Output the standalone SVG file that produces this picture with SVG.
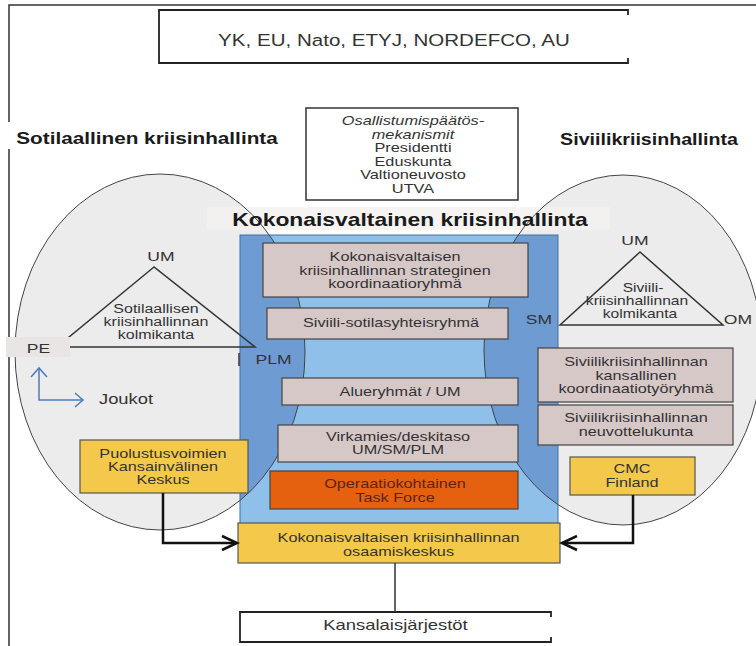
<svg xmlns="http://www.w3.org/2000/svg" width="756" height="646" viewBox="0 0 756 646">
<style>
.t{font-family:"Liberation Sans",Arial,sans-serif;font-size:12.5px;fill:#333;text-anchor:middle}
.o{font-size:12px}
.lab{font-size:13px}
.h{font-weight:bold;fill:#1a1a1a}
.box{fill:#d7c8c8;stroke:#444;stroke-width:1.2}
.yel{fill:#f4c84a;stroke:#555;stroke-width:1.2}
.tri{fill:none;stroke:#333;stroke-width:1.5}
.ell{fill:none;stroke:#444;stroke-width:1}
.conn{fill:none;stroke:#111;stroke-width:2.5}
.blue{fill:none;stroke:#4a7cc0;stroke-width:1.5}
</style>
<defs>
<clipPath id="blueClip"><rect x="240" y="235" width="318" height="290"/></clipPath>
</defs>
<rect width="756" height="646" fill="#ffffff"/>
<g id="frame"><path d="M9,646 V5 H756" fill="none" stroke="#333" stroke-width="1.5"/></g>

<g id="ellipses">
<ellipse cx="160" cy="352" rx="145" ry="178" fill="#ececec"/>
<ellipse cx="623" cy="350" rx="139" ry="175" fill="#ececec"/>
<rect x="207" y="207" width="403" height="23" fill="#f5f1f1" opacity="0.85"/>
<rect x="240" y="235" width="318" height="290" fill="#8fc0ea"/>
<g clip-path="url(#blueClip)">
<ellipse cx="160" cy="352" rx="145" ry="178" fill="#6d9bd2"/>
<ellipse cx="623" cy="350" rx="139" ry="175" fill="#6d9bd2"/>
</g>
<rect x="240" y="235" width="318" height="290" fill="none" stroke="#44709f" stroke-width="1"/>
<ellipse class="ell" cx="160" cy="352" rx="145" ry="178"/>
<ellipse class="ell" cx="623" cy="350" rx="139" ry="175"/>
<line x1="239" y1="353" x2="239" y2="366" stroke="#333" stroke-width="1.5"/>
</g>

<g id="top-box">
<path d="M628,15 V10 H159 V63 H628 V58" fill="#fff" stroke="#222" stroke-width="1.8"/>
<text class="t" style="font-size:17px" transform="translate(394,46) scale(1.21,1)">YK, EU, Nato, ETYJ, NORDEFCO, AU</text>
</g>

<g id="heading-military">
<rect x="6" y="122" width="282" height="27" fill="#fff"/>
<text class="t h" style="font-size:17px" transform="translate(147,144) scale(1.22,1)">Sotilaallinen kriisinhallinta</text>
</g>
<g id="heading-civil">
<text class="t h" style="font-size:16.5px" transform="translate(649,145) scale(1.19,1)">Siviilikriisinhallinta</text>
</g>

<g id="decision-box">
<rect x="306" y="108" width="212" height="92" fill="#fff" stroke="#333" stroke-width="1.5"/>
<text class="t o" font-style="italic" transform="translate(413,125) scale(1.36,1)">Osallistumispäätös-</text>
<text class="t o" font-style="italic" transform="translate(413,138.5) scale(1.36,1)">mekanismit</text>
<text class="t o" transform="translate(413,152) scale(1.36,1)">Presidentti</text>
<text class="t o" transform="translate(413,165.5) scale(1.36,1)">Eduskunta</text>
<text class="t o" transform="translate(413,179) scale(1.36,1)">Valtioneuvosto</text>
<text class="t o" transform="translate(413,192.5) scale(1.36,1)">UTVA</text>
</g>

<g id="heading-comprehensive">
<text class="t h" style="font-size:18px" transform="translate(410,226) scale(1.27,1)">Kokonaisvaltainen kriisinhallinta</text>
</g>

<g id="military-triangle">
<polygon class="tri" points="154,267 57,347 255,347"/>
<text class="t lab" transform="translate(161,261) scale(1.35,1)">UM</text>
<text class="t" transform="translate(156,313) scale(1.28,1)">Sotilaallisen</text>
<text class="t" transform="translate(156,326) scale(1.28,1)">kriisinhallinnan</text>
<text class="t" transform="translate(156,339) scale(1.28,1)">kolmikanta</text>
<rect x="6" y="337" width="64" height="20" fill="#e9e5e5"/>
<text class="t lab" transform="translate(38.5,353) scale(1.35,1)">PE</text>
<text class="t lab" transform="translate(273.5,364) scale(1.35,1)">PLM</text>
</g>

<g id="troops">
<path class="blue" d="M39,369 V400 H83"/>
<path class="blue" d="M31,377 L39,368 L47,377"/>
<path class="blue" d="M75,393 L83,400 L75,407"/>
<text class="t" style="font-size:14px;text-anchor:start" transform="translate(99,404) scale(1.31,1)">Joukot</text>
</g>

<g id="civil-triangle">
<polygon class="tri" points="640,252 560,325 723,325"/>
<text class="t lab" transform="translate(635,245) scale(1.35,1)">UM</text>
<text class="t lab" transform="translate(539,324) scale(1.35,1)">SM</text>
<text class="t lab" transform="translate(738,324) scale(1.35,1)">OM</text>
<text class="t" transform="translate(643,292) scale(1.25,1)">Siviili-</text>
<text class="t" transform="translate(637,305) scale(1.25,1)">kriisinhallinnan</text>
<text class="t" transform="translate(640,318) scale(1.25,1)">kolmikanta</text>
</g>

<g id="strategic-group">
<rect class="box" x="263" y="243" width="265" height="54"/>
<text class="t" transform="translate(395,261) scale(1.3,1)">Kokonaisvaltaisen</text>
<text class="t" transform="translate(395,274.5) scale(1.3,1)">kriisinhallinnan strateginen</text>
<text class="t" transform="translate(395,288) scale(1.3,1)">koordinaatioryhmä</text>
</g>
<g id="civil-military-group">
<rect class="box" x="267" y="308" width="241" height="31"/>
<text class="t" transform="translate(391,327) scale(1.3,1)">Siviili-sotilasyhteisryhmä</text>
</g>
<g id="regional-groups">
<rect class="box" x="282" y="378" width="236" height="27"/>
<text class="t" transform="translate(400,396) scale(1.3,1)">Alueryhmät / UM</text>
</g>
<g id="desk-level">
<rect class="box" x="278" y="425" width="240" height="37"/>
<text class="t" transform="translate(398,441) scale(1.3,1)">Virkamies/deskitaso</text>
<text class="t" transform="translate(398,454) scale(1.3,1)">UM/SM/PLM</text>
</g>
<g id="task-force">
<rect x="270" y="471" width="248" height="38" fill="#e5600f" stroke="#444" stroke-width="1.2"/>
<text class="t" style="fill:#5e2410" transform="translate(395,488) scale(1.3,1)">Operaatiokohtainen</text>
<text class="t" style="fill:#5e2410" transform="translate(395,502) scale(1.3,1)">Task Force</text>
</g>
<g id="competence-centre">
<rect class="yel" x="238" y="523" width="322" height="40"/>
<text class="t" transform="translate(398.5,542) scale(1.3,1)">Kokonaisvaltaisen kriisinhallinnan</text>
<text class="t" transform="translate(398.5,555.5) scale(1.3,1)">osaamiskeskus</text>
</g>

<g id="civil-coordination">
<rect class="box" x="538" y="348" width="195" height="54"/>
<text class="t" transform="translate(636,366) scale(1.3,1)">Siviilikriisinhallinnan</text>
<text class="t" transform="translate(636,379.5) scale(1.3,1)">kansallinen</text>
<text class="t" transform="translate(636,393) scale(1.3,1)">koordinaatiotyöryhmä</text>
</g>
<g id="civil-advisory">
<rect class="box" x="538" y="405" width="195" height="40"/>
<text class="t" transform="translate(636,422) scale(1.3,1)">Siviilikriisinhallinnan</text>
<text class="t" transform="translate(636,435.5) scale(1.3,1)">neuvottelukunta</text>
</g>

<g id="defence-centre">
<rect class="yel" x="80" y="440" width="168" height="53"/>
<text class="t" transform="translate(163,458) scale(1.3,1)">Puolustusvoimien</text>
<text class="t" transform="translate(163,471) scale(1.3,1)">Kansainvälinen</text>
<text class="t" transform="translate(163,484) scale(1.3,1)">Keskus</text>
</g>
<g id="cmc-finland">
<rect class="yel" x="570" y="457" width="125" height="38"/>
<text class="t" transform="translate(632,473) scale(1.3,1)">CMC</text>
<text class="t" transform="translate(632,487) scale(1.3,1)">Finland</text>
</g>

<g id="ngos">
<path d="M551,617 V612 H240 V642 H551 V637" fill="#fff" stroke="#222" stroke-width="1.8"/>
<text class="t" style="font-size:15px" transform="translate(395.5,630) scale(1.23,1)">Kansalaisjärjestöt</text>
</g>

<g id="connectors">
<path class="conn" d="M163,493 V543 H236"/>
<path class="conn" d="M222,536 L237,543 L222,550"/>
<path class="conn" d="M633,495 V543 H562"/>
<path class="conn" d="M577,536 L562,543 L577,550"/>
<line x1="395" y1="563" x2="395" y2="612" stroke="#333" stroke-width="1.5"/>
</g>
</svg>
